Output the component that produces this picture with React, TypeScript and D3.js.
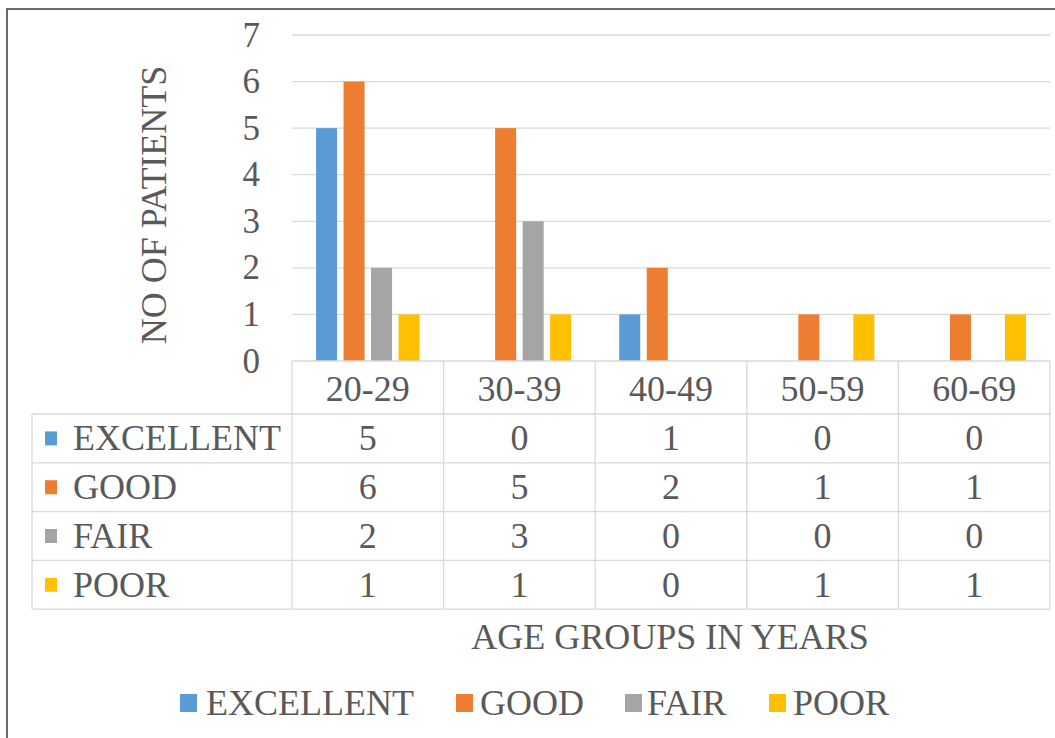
import React from "react";
import * as d3 from "d3";

const categories = ["20-29", "30-39", "40-49", "50-59", "60-69"];
const seriesNames = ["EXCELLENT", "GOOD", "FAIR", "POOR"];
const excellent = [5, 0, 1, 0, 0];
const good = [6, 5, 2, 1, 1];
const fair = [2, 3, 0, 0, 0];
const poor = [1, 1, 0, 1, 1];
const colors = ["#5B9BD5", "#ED7D31", "#A5A5A5", "#FFC000"];
const yTicks = [0, 1, 2, 3, 4, 5, 6, 7];

const seriesValues = [excellent, good, fair, poor];

const W = 1055;
const H = 738;
const FONT = '"Liberation Serif"';
const TXT = "#595959";
const GRID = "#d9d9d9";

export default function App() {
  const x = d3.scaleBand<string>().domain(categories).range([292, 1050]);
  const y = d3.scaleLinear().domain([0, 7]).range([361, 35]);
  const inner = d3
    .scaleBand<string>()
    .domain(seriesNames)
    .range([-55, 55])
    .paddingInner(0.236)
    .paddingOuter(0.118);

  const tableLeft = 32;
  const headerTop = y(0);
  const headerBottom = 414;
  const rowH = 48.8;
  const rowTops = seriesNames.map((_, i) => headerBottom + i * rowH);
  const tableBottom = headerBottom + seriesNames.length * rowH;
  const colEdges = categories.map((c) => x(c)!).concat([x.range()[1]]);

  const legendItems = [
    { name: "EXCELLENT", sx: 180, tx: 206 },
    { name: "GOOD", sx: 456, tx: 480 },
    { name: "FAIR", sx: 625, tx: 647 },
    { name: "POOR", sx: 769, tx: 793 },
  ];

  const ts: React.CSSProperties = { fontFamily: FONT };

  return (
    <svg
      width={W}
      height={H}
      style={{ position: "absolute", left: 0, top: 0, background: "#fff", fontFamily: FONT }}
    >
      <rect x={0} y={0} width={W} height={H} fill="#fff" />
      <path d={`M7,${H} L7,9 L${W},9`} fill="none" stroke="#3a3a3a" strokeWidth={1.5} />

      {yTicks.slice(1).map((t) => (
        <line key={t} x1={292} x2={1050} y1={y(t)} y2={y(t)} stroke={GRID} strokeWidth={1.3} />
      ))}

      {yTicks.map((t) => (
        <text key={t} x={260} y={y(t)} textAnchor="end" dominantBaseline="central" fontSize={35} fill={TXT} style={ts}>
          {t}
        </text>
      ))}

      <text
        transform={`translate(${154},${205}) rotate(-90)`}
        textAnchor="middle"
        dominantBaseline="central"
        fontSize={36}
        fill={TXT}
        style={ts}
      >
        NO OF PATIENTS
      </text>

      {categories.map((c, ci) => {
        const cx = x(c)! + x.bandwidth() / 2;
        return seriesNames.map((s, si) => {
          const v = seriesValues[si][ci];
          if (!v) return null;
          return (
            <rect
              key={c + s}
              x={cx + inner(s)!}
              y={y(v)}
              width={inner.bandwidth()}
              height={y(0) - y(v)}
              fill={colors[si]}
            />
          );
        });
      })}

      <g stroke={GRID} strokeWidth={1.3} fill="none">
        <line x1={292} x2={1050} y1={headerTop} y2={headerTop} />
        {rowTops.map((t, i) => (
          <line key={i} x1={tableLeft} x2={1050} y1={t} y2={t} />
        ))}
        <line x1={tableLeft} x2={1050} y1={tableBottom} y2={tableBottom} />
        <line x1={tableLeft} x2={tableLeft} y1={headerBottom} y2={tableBottom} />
        {colEdges.map((e, i) => (
          <line key={i} x1={e} x2={e} y1={headerTop} y2={tableBottom} />
        ))}
      </g>
      {categories.map((c) => (
        <text
          key={c}
          x={x(c)! + x.bandwidth() / 2}
          y={(headerTop + headerBottom) / 2 + 1}
          textAnchor="middle"
          dominantBaseline="central"
          fontSize={36}
          fill={TXT}
          style={ts}
        >
          {c}
        </text>
      ))}
      {seriesNames.map((s, si) => {
        const cy = rowTops[si] + rowH / 2;
        return (
          <g key={s}>
            <rect x={45} y={cy - 7} width={12} height={14} fill={colors[si]} />
            <text x={73} y={cy} dominantBaseline="central" fontSize={36} fill={TXT} style={ts}>
              {s}
            </text>
            {categories.map((c, ci) => (
              <text
                key={c}
                x={x(c)! + x.bandwidth() / 2}
                y={cy}
                textAnchor="middle"
                dominantBaseline="central"
                fontSize={36}
                fill={TXT}
                style={ts}
              >
                {seriesValues[si][ci]}
              </text>
            ))}
          </g>
        );
      })}

      <text x={670} y={637} textAnchor="middle" dominantBaseline="central" fontSize={36} fill={TXT} style={ts}>
        AGE GROUPS IN YEARS
      </text>

      {legendItems.map((l, i) => (
        <g key={l.name}>
          <rect x={l.sx} y={694} width={17} height={18} fill={colors[i]} />
          <text x={l.tx} y={703} dominantBaseline="central" fontSize={36} fill={TXT} style={ts}>
            {l.name}
          </text>
        </g>
      ))}
    </svg>
  );
}
